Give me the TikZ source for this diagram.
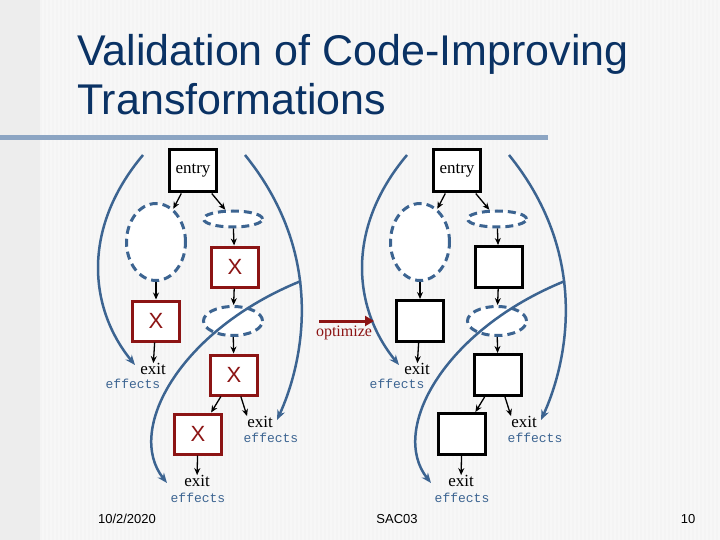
\documentclass[tikz,border=0pt]{standalone}
\usepackage{fontspec}
\setmainfont{Liberation Serif}
\newfontfamily\titlefont{Liberation Sans}
\newfontfamily\monofont{Liberation Mono}
\usetikzlibrary{arrows.meta,shapes.geometric}
\definecolor{ttl}{RGB}{10,50,100}
\definecolor{cblue}{RGB}{60,100,145}
\definecolor{dred}{RGB}{140,20,20}
\definecolor{rulec}{RGB}{140,165,195}
\tikzset{
  blk/.style={draw=black,line width=3pt,fill=white,minimum width=47pt,minimum height=41pt,inner sep=0pt},
  xbox/.style={draw=dred,line width=3pt,fill=white,minimum width=47pt,minimum height=40pt,inner sep=0pt,text=dred,font=\titlefont\fontsize{22}{22}\selectfont},
  dell/.style={ellipse,draw=cblue,line width=3pt,dash pattern=on 8pt off 5pt,fill=white,inner sep=0pt},
  lbl/.style={font=\fontsize{17}{17}\selectfont,inner sep=0pt},
  eff/.style={font=\monofont\fontsize{13}{13}\selectfont,text=cblue,inner sep=0pt},
  ar/.style={-{Stealth[length=7pt,width=6pt]},line width=1.3pt},
  cur/.style={cblue,line width=2.5pt,-{Stealth[length=10pt,width=8pt]}},
}
\newcommand{\flowdiag}[3]{%
  \node[blk,minimum height=42pt,font=\fontsize{17}{17}\selectfont] (#1en) at (193,171) {entry};
  \node[dell,minimum width=59pt,minimum height=77pt] (#1be) at (156,242) {};
  \node[dell,minimum width=59pt,minimum height=16pt] (#1se) at (233,219) {};
  \node[#2] (#1b1) at (235,267) {#3};
  \node[#2] (#1b2) at (156,321) {#3};
  \node[dell,minimum width=59pt,minimum height=29pt] (#1me) at (233,321) {};
  \node[#2] (#1b3) at (234,375) {#3};
  \node[#2] (#1b4) at (198,434) {#3};
  \node[lbl] (#1x1) at (153,369) {exit};
  \node[eff] (#1f1) at (133,384) {effects};
  \node[lbl] (#1x2) at (260,422) {exit};
  \node[eff] (#1f2) at (271,438) {effects};
  \node[lbl] (#1x3) at (197,481) {exit};
  \node[eff] (#1f3) at (198,498) {effects};
  \draw[ar] (#1en) -- (#1be);
  \draw[ar] (#1en) -- (#1se);
  \draw[ar] (#1se) -- (#1b1);
  \draw[ar] (#1b1) -- (#1me);
  \draw[ar] (#1me) -- (#1b3);
  \draw[ar] (#1be) -- (#1b2);
  \draw[ar] (#1b2) -- (#1x1);
  \draw[ar] (#1b3) -- (#1x2.north west);
  \draw[ar] (#1b3) -- (#1b4);
  \draw[ar] (#1b4) -- (#1x3);
  \coordinate (#1c1) at (143,155);
  \coordinate (#1c1e) at (135,365);
  \coordinate (#1c2) at (245,155);
  \coordinate (#1c2m) at (301,281);
  \coordinate (#1c2e) at (277,420);
  \coordinate (#1c3e) at (167,483);
  \draw[cur] (#1c1) .. controls (80,230) and (90,310) .. (#1c1e);
  \draw[cur] (#1c2) .. controls (330,260) and (300,370) .. (#1c2e);
  \draw[cur] (#1c2m) .. controls (180,330) and (125,430) .. (#1c3e);
}
\begin{document}
\begin{tikzpicture}[x=1pt,y=-1pt]
\useasboundingbox (0,0) rectangle (720,540);
\fill[gray!6] (0,0) rectangle (720,540);
\foreach \i in {0,4,...,716} {\fill[gray!9] (\i,0) rectangle (\i+2,540);}
\fill[gray!14] (0,0) rectangle (40,540);
\node[anchor=base west,inner sep=0pt,text=ttl,font=\titlefont\fontsize{43}{43}\selectfont] (t1) at (77,66) {Validation of Code-Improving};
\node[anchor=base west,inner sep=0pt,text=ttl,font=\titlefont\fontsize{43}{43}\selectfont] (t2) at (77,115) {Transformations};
\fill[rulec] (0,135) rectangle (548,140);
\flowdiag{a}{xbox}{X}
\begin{scope}[xshift=264pt]
\flowdiag{b}{blk}{}
\end{scope}
\coordinate (o1) at (319,321);
\coordinate (o2) at (374,321);
\draw[dred,line width=3pt,-{Triangle[length=9pt,width=10pt]}] (o1) -- (o2);
\node[text=dred,font=\fontsize{16}{16}\selectfont] (opt) at (344,333) {optimize};
\node[font=\titlefont\fontsize{13}{13}\selectfont] (d1) at (127,519) {10/2/2020};
\node[font=\titlefont\fontsize{13}{13}\selectfont] (d2) at (397,519) {SAC03};
\node[font=\titlefont\fontsize{13}{13}\selectfont] (d3) at (688,519) {10};
\end{tikzpicture}
\end{document}
